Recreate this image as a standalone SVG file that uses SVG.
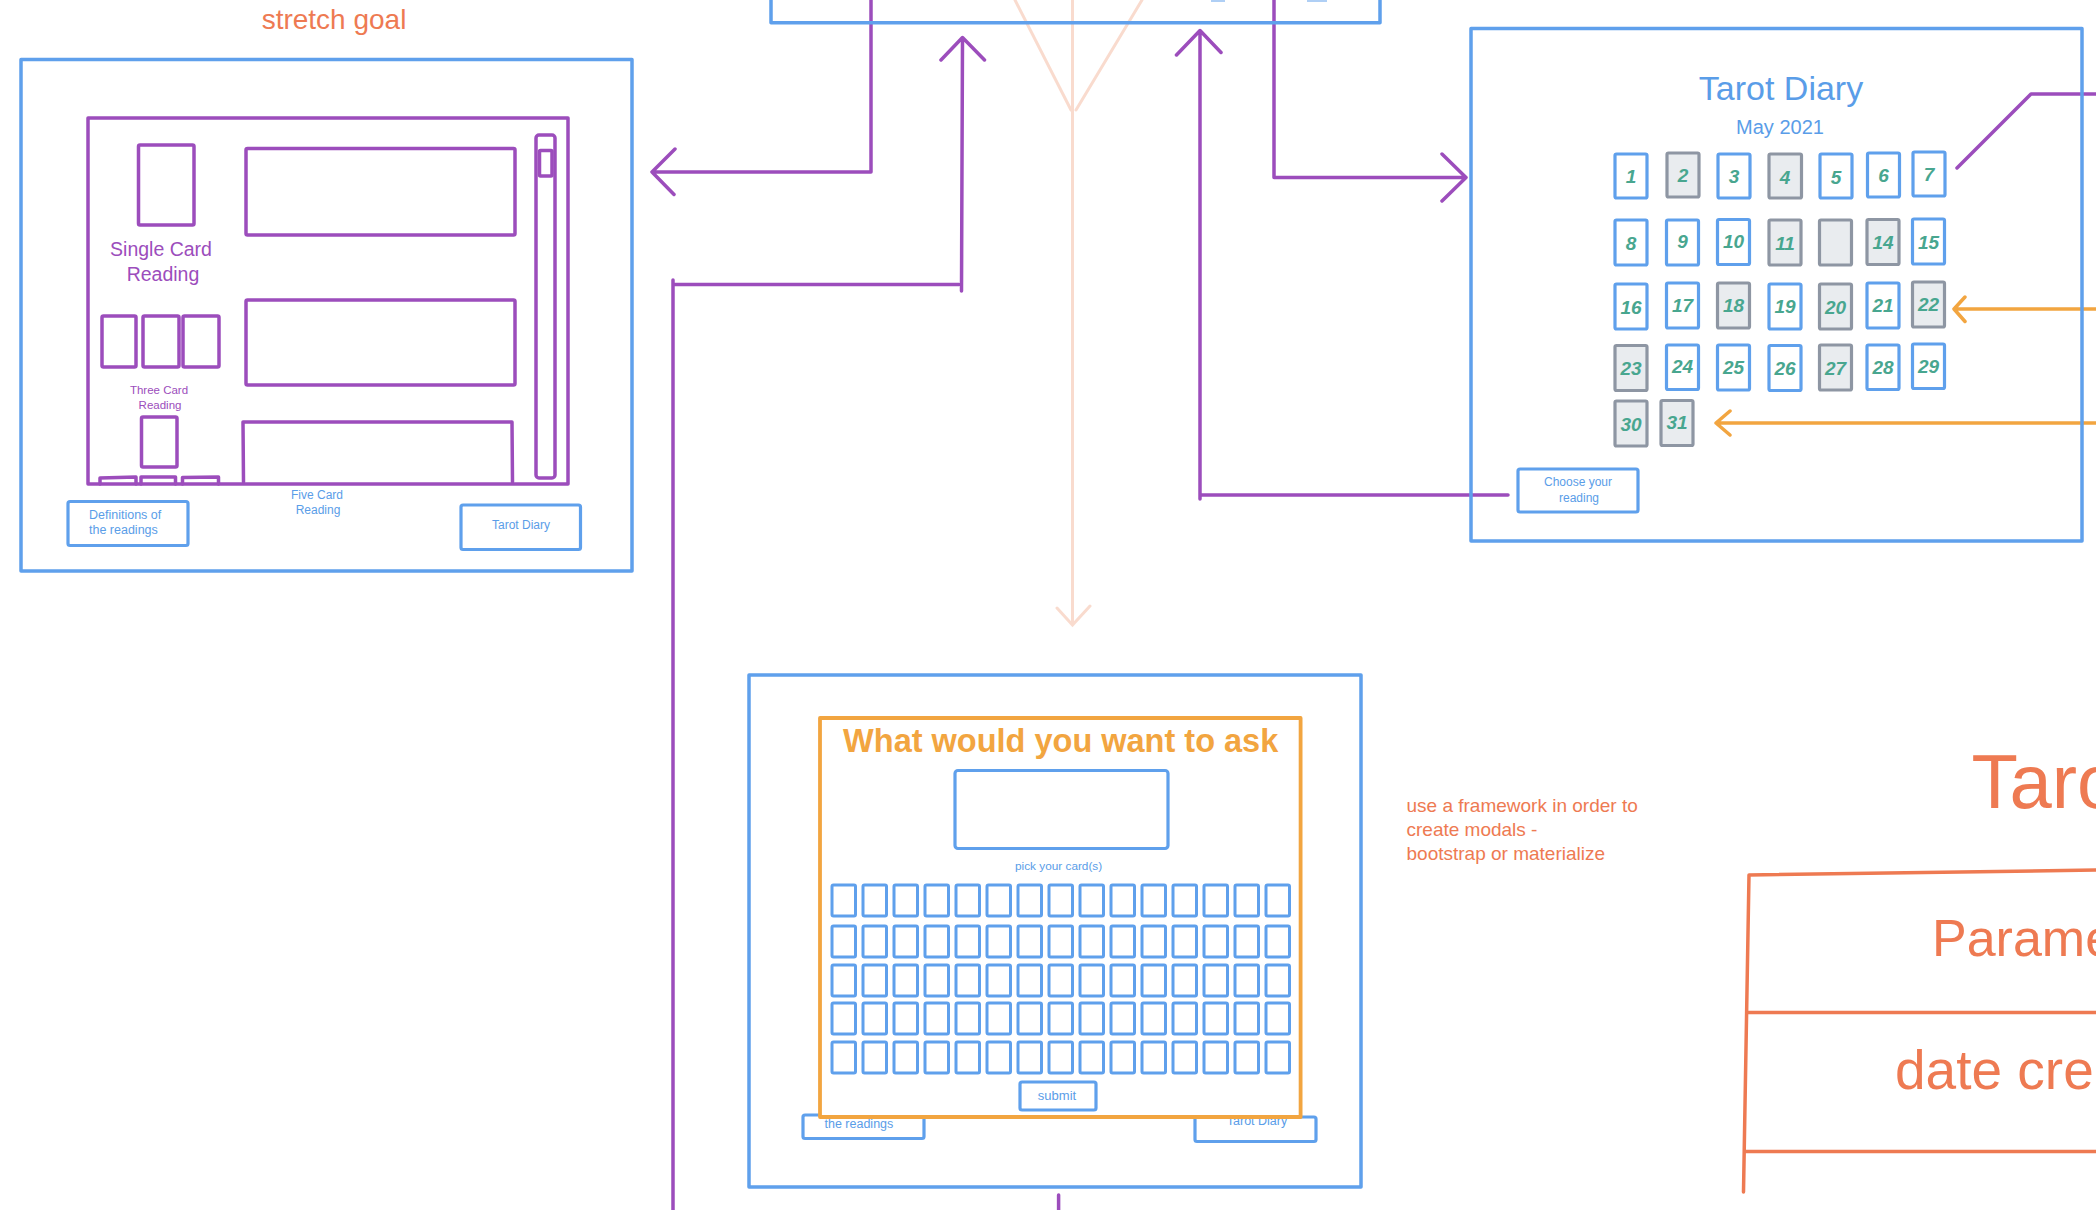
<svg xmlns="http://www.w3.org/2000/svg" width="2096" height="1210" viewBox="0 0 2096 1210">
<style>
.bg{fill:#ffffff}
.bl{fill:none;stroke:#5fa0ec;stroke-width:3.5;stroke-linejoin:round;stroke-linecap:round}
.btn{fill:#ffffff;stroke:#5fa0ec;stroke-width:3.2;stroke-linejoin:round}
.pu{fill:none;stroke:#9c4dbc;stroke-width:3.5;stroke-linejoin:round;stroke-linecap:round}
.or{fill:none;stroke:#f2a540;stroke-width:3.5;stroke-linejoin:round;stroke-linecap:round}
.rd{fill:none;stroke:#ee7a52;stroke-width:3.5;stroke-linejoin:round;stroke-linecap:round}
.pe{fill:none;stroke:#f7cfbd;stroke-width:3;stroke-linecap:round;opacity:0.75}
.cell{fill:#ffffff;stroke:#5fa0ec;stroke-width:3.2;stroke-linejoin:round}
.gcell{fill:#e9ecef;stroke:#8e96a3;stroke-width:3.2;stroke-linejoin:round}
.gc{fill:#ffffff;stroke:#5fa0ec;stroke-width:3;stroke-linejoin:round}
.t{font-family:"Liberation Sans",Arial,sans-serif}
.tb{fill:#5a9de8}
.tp{fill:#9c4dbc}
.tr{fill:#ee7a52}
.num{font-family:"Liberation Sans",Arial,sans-serif;font-style:italic;font-weight:bold;font-size:19px;fill:#48a68f;text-anchor:middle}
.mid{text-anchor:middle}
</style>
<defs>
<rect id="gcard" width="23.5" height="31" rx="1.5" class="gc"/>
</defs>
<rect class="bg" x="0" y="0" width="2096" height="1210"/>

<g id="connectors">
  <!-- faint peach arrow -->
  <path class="pe" d="M1015 0 L1071 110 M1142 0 L1076 110 M1072.5 0 L1072.5 625 M1057 608 L1072.5 625 L1090 606"/>
  <!-- top box to left screen -->
  <path class="pu" d="M871 0 L871 172 L652 172 M675 149 L652 172 L674 194.5"/>
  <!-- bottom-left up to top box -->
  <path class="pu" d="M673 280 L673 1210 M673 284.5 L959 284.5 M961.5 291 L962.5 38 M941 60 L962.5 37.5 L984.5 60"/>
  <!-- top box to tarot diary -->
  <path class="pu" d="M1274 0 L1274 177.5 L1466 177.5 M1442 154 L1466 177.5 L1442 201"/>
  <!-- choose your reading up to top box -->
  <path class="pu" d="M1508 495 L1200 495 M1200 499 L1200 31 M1176.5 55 L1200 30.5 L1221 52.5"/>
  <!-- top-right purple -->
  <path class="pu" d="M1957 168 L2031 94 L2096 94"/>
  <!-- orange arrows into calendar -->
  <path class="or" d="M2096 309 L1954 309 M1965 297 L1954 309 L1965 321.5"/>
  <path class="or" d="M2096 423 L1716 423 M1730 411 L1716 423 L1730 435"/>
  <!-- purple line below bottom screen -->
  <path class="pu" d="M1058.6 1195 L1058.6 1210"/>
</g>

<g id="top-screen">
  <path class="bl" d="M771 0 L771 22.7 L1380 22.7 L1380 0"/>
  <path d="M1211 1 L1225 1 M1307 1 L1327 1" stroke="#5fa0ec" stroke-width="2" opacity="0.5" fill="none"/>
</g>

<text id="stretch-goal" class="t tr mid" x="334" y="28.5" font-size="28">stretch goal</text>

<g id="readings-screen">
  <rect class="bl" x="21" y="59.5" width="611" height="511.5"/>
  <rect class="pu" x="88" y="118" width="480" height="366"/>
  <rect class="pu" x="138.5" y="145" width="55.5" height="80" rx="1.5"/>
  <text class="t tp mid" font-size="19.5"><tspan x="161" y="256">Single Card</tspan><tspan x="163" y="281">Reading</tspan></text>
  <rect class="pu" x="102" y="316" width="34" height="51" rx="1.5"/>
  <rect class="pu" x="143" y="316" width="36" height="51" rx="1.5"/>
  <rect class="pu" x="183" y="316" width="36" height="51" rx="1.5"/>
  <text class="t tp mid" font-size="11.5"><tspan x="159" y="394">Three Card</tspan><tspan x="160" y="409">Reading</tspan></text>
  <rect class="pu" x="141.5" y="417" width="35.5" height="50" rx="1.5"/>
  <path class="pu" d="M100 484 L100 478 L136 477 L136 484 M141 484 L141 477 L175.5 477 L175.5 484 M182.5 484 L182.5 477.5 L218.5 477 L218.5 484"/>
  <rect class="pu" x="246" y="148.5" width="269" height="86.5" rx="1.5"/>
  <rect class="pu" x="246" y="300" width="269" height="85" rx="1.5"/>
  <path class="pu" d="M243.5 482 L243 422 L512 422 L512.5 482"/>
  <rect class="pu" x="536" y="135" width="19" height="343" rx="3"/>
  <rect class="pu" x="539.5" y="150.5" width="12.5" height="25.5" rx="1"/>
  <text class="t tb mid" font-size="12"><tspan x="317" y="498.5">Five Card</tspan><tspan x="318" y="514">Reading</tspan></text>
  <rect class="btn" x="68" y="501.5" width="120" height="44" rx="2"/>
  <text class="t tb" font-size="12.5"><tspan x="89" y="518.5">Definitions of</tspan><tspan x="89" y="534">the readings</tspan></text>
  <rect class="btn" x="461" y="505" width="119.5" height="44.5" rx="2"/>
  <text class="t tb mid" x="521" y="528.5" font-size="12">Tarot Diary</text>
</g>

<g id="tarot-diary-screen">
  <rect class="bl" x="1471" y="28.6" width="611" height="512.4"/>
  <text class="t tb mid" x="1781" y="100" font-size="34">Tarot Diary</text>
  <text class="t tb mid" x="1780" y="134" font-size="20">May 2021</text>
  <!-- row 1 -->
  <rect class="cell" x="1615" y="154" width="32" height="44" rx="1.5"/><text class="num" x="1631" y="183">1</text>
  <rect class="gcell" x="1667" y="153" width="32" height="44" rx="1.5"/><text class="num" x="1683" y="182">2</text>
  <rect class="cell" x="1718" y="154" width="32" height="44" rx="1.5"/><text class="num" x="1734" y="183">3</text>
  <rect class="gcell" x="1769" y="154" width="32.5" height="44" rx="1.5"/><text class="num" x="1785" y="184">4</text>
  <rect class="cell" x="1820" y="154" width="32" height="44" rx="1.5"/><text class="num" x="1836" y="184">5</text>
  <rect class="cell" x="1867.5" y="153" width="32" height="44" rx="1.5"/><text class="num" x="1883.5" y="182">6</text>
  <rect class="cell" x="1913" y="152" width="32" height="44" rx="1.5"/><text class="num" x="1929" y="181">7</text>
  <!-- row 2 -->
  <rect class="cell" x="1615" y="220" width="32" height="45" rx="1.5"/><text class="num" x="1631" y="250">8</text>
  <rect class="cell" x="1666.5" y="220" width="32" height="45" rx="1.5"/><text class="num" x="1682.5" y="248">9</text>
  <rect class="cell" x="1717.5" y="219.5" width="32" height="45" rx="1.5"/><text class="num" x="1733.5" y="248">10</text>
  <rect class="gcell" x="1769" y="220" width="32" height="45" rx="1.5"/><text class="num" x="1785" y="250">11</text>
  <rect class="gcell" x="1819.5" y="220" width="32" height="45" rx="1.5"/>
  <rect class="gcell" x="1867" y="219.5" width="32" height="45" rx="1.5"/><text class="num" x="1883" y="249">14</text>
  <rect class="cell" x="1912.5" y="219" width="32" height="45" rx="1.5"/><text class="num" x="1928.5" y="249">15</text>
  <!-- row 3 -->
  <rect class="cell" x="1615" y="284" width="32" height="45" rx="1.5"/><text class="num" x="1631" y="314">16</text>
  <rect class="cell" x="1666.5" y="283" width="32" height="45" rx="1.5"/><text class="num" x="1682.5" y="312">17</text>
  <rect class="gcell" x="1717.5" y="283" width="32" height="45" rx="1.5"/><text class="num" x="1733.5" y="312">18</text>
  <rect class="cell" x="1769" y="284" width="32" height="45" rx="1.5"/><text class="num" x="1785" y="313">19</text>
  <rect class="gcell" x="1819.5" y="284" width="32" height="45" rx="1.5"/><text class="num" x="1835.5" y="314">20</text>
  <rect class="cell" x="1867" y="283" width="32" height="45" rx="1.5"/><text class="num" x="1883" y="312">21</text>
  <rect class="gcell" x="1912.5" y="282" width="32" height="45" rx="1.5"/><text class="num" x="1928.5" y="311">22</text>
  <!-- row 4 -->
  <rect class="gcell" x="1615" y="345.5" width="32" height="45" rx="1.5"/><text class="num" x="1631" y="375">23</text>
  <rect class="cell" x="1666.5" y="345" width="32" height="44.5" rx="1.5"/><text class="num" x="1682.5" y="373">24</text>
  <rect class="cell" x="1717.5" y="345" width="32" height="45" rx="1.5"/><text class="num" x="1733.5" y="374">25</text>
  <rect class="cell" x="1769" y="345.5" width="32" height="45" rx="1.5"/><text class="num" x="1785" y="375">26</text>
  <rect class="gcell" x="1819.5" y="345" width="32" height="45" rx="1.5"/><text class="num" x="1835.5" y="375">27</text>
  <rect class="cell" x="1867" y="345" width="32" height="44.5" rx="1.5"/><text class="num" x="1883" y="374">28</text>
  <rect class="cell" x="1912.5" y="344" width="32" height="44.5" rx="1.5"/><text class="num" x="1928.5" y="373">29</text>
  <!-- row 5 -->
  <rect class="gcell" x="1615" y="401" width="32" height="45" rx="1.5"/><text class="num" x="1631" y="431">30</text>
  <rect class="gcell" x="1661" y="400.5" width="32" height="45" rx="1.5"/><text class="num" x="1677" y="429">31</text>
  <rect class="btn" x="1518" y="469" width="120" height="43" rx="2"/>
  <text class="t tb mid" font-size="12"><tspan x="1578" y="485.5">Choose your</tspan><tspan x="1579" y="501.5">reading</tspan></text>
</g>

<g id="ask-screen">
  <rect class="bl" x="749" y="675" width="612" height="512"/>
  <rect class="btn" x="803" y="1115" width="121" height="23.5" rx="2"/>
  <text class="t tb" x="824.5" y="1127.5" font-size="12.5">the readings</text>
  <rect class="btn" x="1195" y="1117" width="121" height="24.5" rx="2"/>
  <text class="t tb mid" x="1257" y="1124.5" font-size="12.5">Tarot Diary</text>
  <rect x="820" y="718" width="480.6" height="399" fill="#ffffff" stroke="#f2a540" stroke-width="3.8" stroke-linejoin="round"/>
  <text class="t mid" x="1060.7" y="752" font-size="32.5" font-weight="bold" fill="#f2a540">What would you want to ask</text>
  <rect class="btn" x="955" y="770.5" width="213" height="78" rx="3"/>
  <text class="t tb mid" x="1058.6" y="870" font-size="11.8">pick your card(s)</text>
  <g id="card-grid">
    <use href="#gcard" x="832" y="885"/><use href="#gcard" x="863" y="885"/><use href="#gcard" x="894" y="885"/><use href="#gcard" x="925" y="885"/><use href="#gcard" x="956" y="885"/><use href="#gcard" x="987" y="885"/><use href="#gcard" x="1018" y="885"/><use href="#gcard" x="1049" y="885"/><use href="#gcard" x="1080" y="885"/><use href="#gcard" x="1111" y="885"/><use href="#gcard" x="1142" y="885"/><use href="#gcard" x="1173" y="885"/><use href="#gcard" x="1204" y="885"/><use href="#gcard" x="1235" y="885"/><use href="#gcard" x="1266" y="885"/>
    <use href="#gcard" x="832" y="926"/><use href="#gcard" x="863" y="926"/><use href="#gcard" x="894" y="926"/><use href="#gcard" x="925" y="926"/><use href="#gcard" x="956" y="926"/><use href="#gcard" x="987" y="926"/><use href="#gcard" x="1018" y="926"/><use href="#gcard" x="1049" y="926"/><use href="#gcard" x="1080" y="926"/><use href="#gcard" x="1111" y="926"/><use href="#gcard" x="1142" y="926"/><use href="#gcard" x="1173" y="926"/><use href="#gcard" x="1204" y="926"/><use href="#gcard" x="1235" y="926"/><use href="#gcard" x="1266" y="926"/>
    <use href="#gcard" x="832" y="965"/><use href="#gcard" x="863" y="965"/><use href="#gcard" x="894" y="965"/><use href="#gcard" x="925" y="965"/><use href="#gcard" x="956" y="965"/><use href="#gcard" x="987" y="965"/><use href="#gcard" x="1018" y="965"/><use href="#gcard" x="1049" y="965"/><use href="#gcard" x="1080" y="965"/><use href="#gcard" x="1111" y="965"/><use href="#gcard" x="1142" y="965"/><use href="#gcard" x="1173" y="965"/><use href="#gcard" x="1204" y="965"/><use href="#gcard" x="1235" y="965"/><use href="#gcard" x="1266" y="965"/>
    <use href="#gcard" x="832" y="1003"/><use href="#gcard" x="863" y="1003"/><use href="#gcard" x="894" y="1003"/><use href="#gcard" x="925" y="1003"/><use href="#gcard" x="956" y="1003"/><use href="#gcard" x="987" y="1003"/><use href="#gcard" x="1018" y="1003"/><use href="#gcard" x="1049" y="1003"/><use href="#gcard" x="1080" y="1003"/><use href="#gcard" x="1111" y="1003"/><use href="#gcard" x="1142" y="1003"/><use href="#gcard" x="1173" y="1003"/><use href="#gcard" x="1204" y="1003"/><use href="#gcard" x="1235" y="1003"/><use href="#gcard" x="1266" y="1003"/>
    <use href="#gcard" x="832" y="1042"/><use href="#gcard" x="863" y="1042"/><use href="#gcard" x="894" y="1042"/><use href="#gcard" x="925" y="1042"/><use href="#gcard" x="956" y="1042"/><use href="#gcard" x="987" y="1042"/><use href="#gcard" x="1018" y="1042"/><use href="#gcard" x="1049" y="1042"/><use href="#gcard" x="1080" y="1042"/><use href="#gcard" x="1111" y="1042"/><use href="#gcard" x="1142" y="1042"/><use href="#gcard" x="1173" y="1042"/><use href="#gcard" x="1204" y="1042"/><use href="#gcard" x="1235" y="1042"/><use href="#gcard" x="1266" y="1042"/>
  </g>
  <rect class="btn" x="1020" y="1082" width="76" height="28" rx="2"/>
  <text class="t tb mid" x="1057" y="1099.5" font-size="13">submit</text>
</g>

<text id="framework-note" class="t tr" font-size="19"><tspan x="1406.5" y="811.5">use a framework in order to</tspan><tspan x="1406.5" y="835.5">create modals -</tspan><tspan x="1406.5" y="859.5">bootstrap or materialize</tspan></text>

<g id="tarot-table">
  <text class="t tr" x="1971.5" y="808" font-size="76">Tarot</text>
  <path class="rd" d="M1749 875 L2096 870 M1749 875 L1743.5 1192 M1747 1012.5 L2096 1012.5 M1746 1151.5 L2096 1151.5"/>
  <text class="t tr" x="1932" y="956" font-size="52">Parameters</text>
  <text class="t tr" x="1895" y="1089" font-size="55">date created</text>
</g>
</svg>
